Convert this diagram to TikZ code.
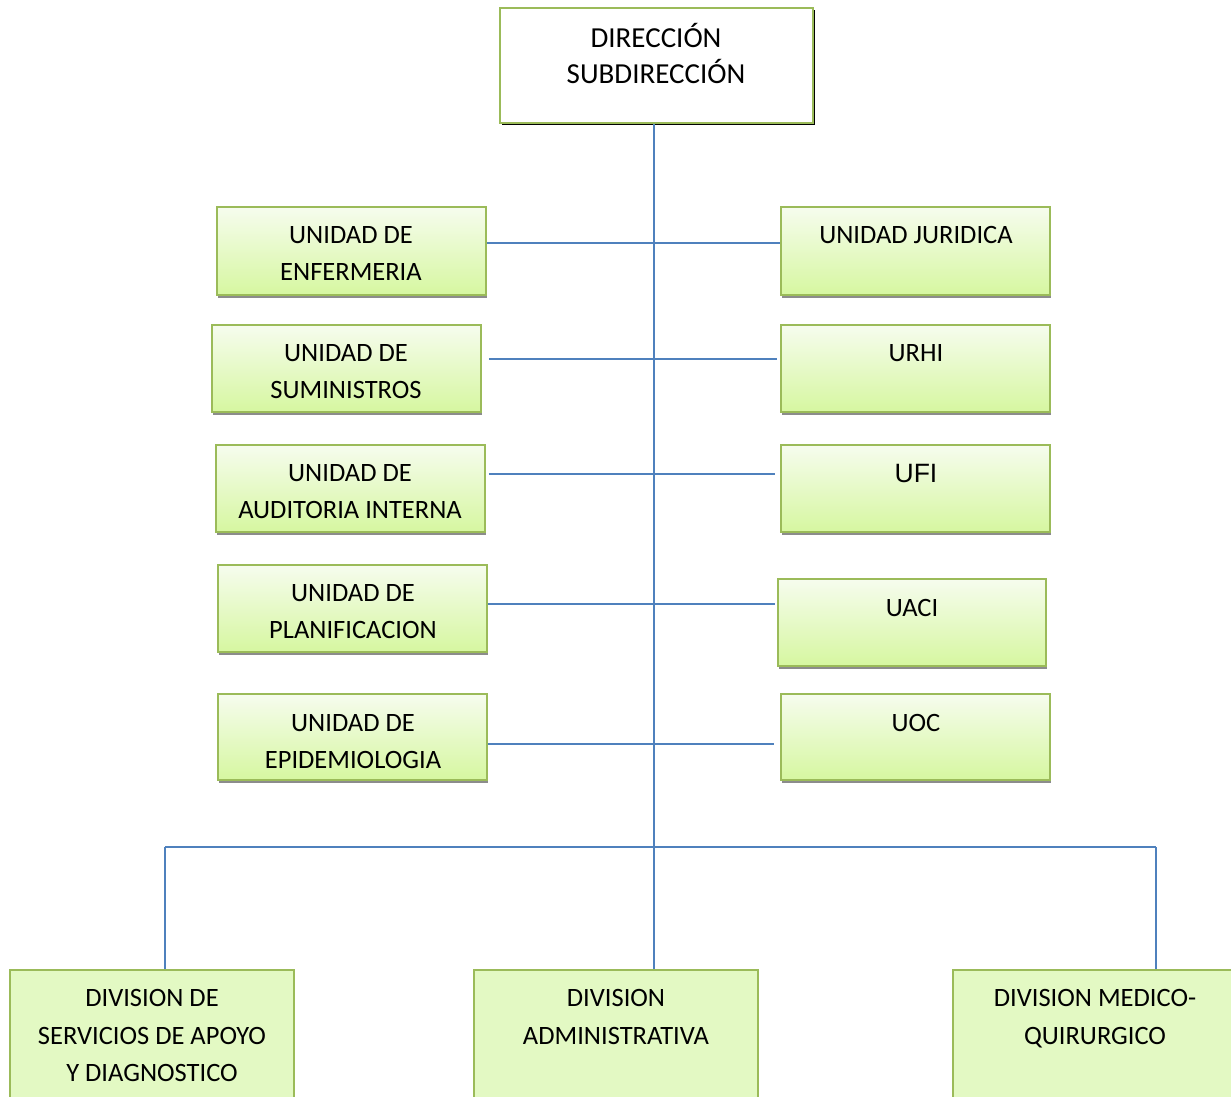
\documentclass[tikz,border=0pt]{standalone}
\usepackage{fontspec}
\setmainfont{Carlito}
\newfontfamily\arialfont{Liberation Sans}
\usetikzlibrary{shadows}

\definecolor{boxgreen}{RGB}{155,187,89}
\definecolor{linkblue}{RGB}{79,129,189}
\definecolor{lighttop}{RGB}{246,252,238}
\definecolor{lightbot}{RGB}{214,247,160}
\definecolor{divfill}{RGB}{227,249,195}

\tikzset{
  unitbox/.style={draw=boxgreen, line width=1.8pt, rectangle, inner sep=0pt,
    top color=lighttop, bottom color=lightbot,
    drop shadow={shadow xshift=1pt, shadow yshift=-3pt, fill=black!45, opacity=1}},
  headbox/.style={draw=boxgreen, line width=1.8pt, rectangle, inner sep=0pt, fill=white,
    drop shadow={shadow xshift=2pt, shadow yshift=-2pt, fill=black, opacity=1}},
  divbox/.style={draw=boxgreen, line width=1.8pt, rectangle, inner sep=0pt, fill=divfill},
  lbl/.style={anchor=base, inner sep=0pt, font=\fontsize{26.5}{37}\selectfont},
  headlbl/.style={anchor=base, inner sep=0pt, font=\fontsize{29}{37}\selectfont},
  lblarial/.style={anchor=base, inner sep=0pt, font=\arialfont\fontsize{26.5}{30}\selectfont},
  link/.style={draw=linkblue, line width=1.5pt}
}

\begin{document}
\begin{tikzpicture}[x=1pt, y=-1pt]
\useasboundingbox (0,0) rectangle (1231,1096);
\clip (0,0) rectangle (1231,1096);

% head of the organisation
\node[headbox, minimum width=313pt, minimum height=115pt] (dir) at (656.5,65.5) {};
\node[headlbl] (dir-t1) at (656,47) {DIRECCIÓN};
\node[headlbl] (dir-t2) at (656,83) {SUBDIRECCIÓN};

% staff units, left column
\node[unitbox, minimum width=269pt, minimum height=88pt] (enf) at (351.5,251) {};
\node[lbl] (enf-t1) at (351,243.5) {UNIDAD DE};
\node[lbl] (enf-t2) at (351,280) {ENFERMERIA};

\node[unitbox, minimum width=269pt, minimum height=87pt] (sum) at (346.5,368.5) {};
\node[lbl] (sum-t1) at (346,361.5) {UNIDAD DE};
\node[lbl] (sum-t2) at (346,398.5) {SUMINISTROS};

\node[unitbox, minimum width=269pt, minimum height=87pt] (aud) at (350.5,488.5) {};
\node[lbl] (aud-t1) at (350,481.5) {UNIDAD DE};
\node[lbl] (aud-t2) at (350,518.5) {AUDITORIA INTERNA};

\node[unitbox, minimum width=269pt, minimum height=87pt] (pla) at (352.5,608.5) {};
\node[lbl] (pla-t1) at (353,601.5) {UNIDAD DE};
\node[lbl] (pla-t2) at (353,638.5) {PLANIFICACION};

\node[unitbox, minimum width=269pt, minimum height=86pt] (epi) at (352.5,737) {};
\node[lbl] (epi-t1) at (353,731.5) {UNIDAD DE};
\node[lbl] (epi-t2) at (353,768.5) {EPIDEMIOLOGIA};

% staff units, right column
\node[unitbox, minimum width=269pt, minimum height=88pt] (jur) at (915.5,251) {};
\node[lbl] (jur-t1) at (916,243.5) {UNIDAD JURIDICA};

\node[unitbox, minimum width=269pt, minimum height=87pt] (urhi) at (915.5,368.5) {};
\node[lbl] (urhi-t1) at (916,361.5) {URHI};

\node[unitbox, minimum width=269pt, minimum height=87pt] (ufi) at (915.5,488.5) {};
\node[lblarial] (ufi-t1) at (916,482) {UFI};

\node[unitbox, minimum width=268pt, minimum height=87pt] (uaci) at (912,622.5) {};
\node[lbl] (uaci-t1) at (912,616.5) {UACI};

\node[unitbox, minimum width=269pt, minimum height=86pt] (uoc) at (915.5,737) {};
\node[lbl] (uoc-t1) at (916,731.5) {UOC};

% divisions
\node[divbox, minimum width=284pt, minimum height=160pt] (div1) at (152,1050) {};
\node[lbl] (div1-t1) at (152,1006.5) {DIVISION DE};
\node[lbl] (div1-t2) at (152,1044.5) {SERVICIOS DE APOYO};
\node[lbl] (div1-t3) at (152,1081.5) {Y DIAGNOSTICO};

\node[divbox, minimum width=284pt, minimum height=160pt] (div2) at (616,1050) {};
\node[lbl] (div2-t1) at (616,1006.5) {DIVISION};
\node[lbl] (div2-t2) at (616,1044.5) {ADMINISTRATIVA};

\node[divbox, minimum width=284pt, minimum height=160pt] (div3) at (1095,1050) {};
\node[lbl] (div3-t1) at (1095,1006.5) {DIVISION MEDICO-};
\node[lbl] (div3-t2) at (1095,1044.5) {QUIRURGICO};

% connectors
\coordinate (bus) at (654,847);
\coordinate (busL) at (165,847);
\coordinate (busR) at (1156,847);

\draw[link] (enf.east |- 0,243) -- (jur.west |- 0,243);
\draw[link] ([xshift=7pt]sum.east |- 0,359) -- ([xshift=-3pt]urhi.west |- 0,359);
\draw[link] ([xshift=3pt]aud.east |- 0,474) -- ([xshift=-5pt]ufi.west |- 0,474);
\draw[link] (pla.east |- 0,604) -- ([xshift=-2pt]uaci.west |- 0,604);
\draw[link] (epi.east |- 0,744) -- ([xshift=-6pt]uoc.west |- 0,744);

\draw[link] (dir.south -| bus) -- (div2.north -| bus);
\draw[link] (busL) -- (busR);
\draw[link] (busL) -- (busL |- div1.north);
\draw[link] (busR) -- (busR |- div3.north);
\end{tikzpicture}
\end{document}
